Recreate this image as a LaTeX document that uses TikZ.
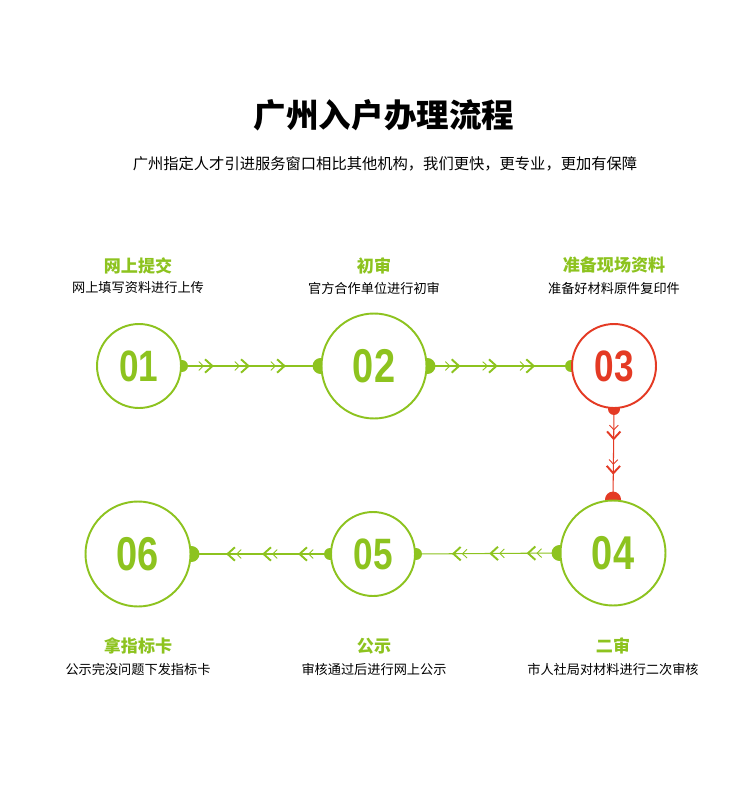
\documentclass[tikz,border=0pt]{standalone}
\usepackage{fontspec}
\usetikzlibrary{positioning,decorations.markings,backgrounds}
\newfontfamily\cjk{Noto Sans CJK SC}
\newfontfamily\numfont{Liberation Sans}[FakeStretch=0.8]
\definecolor{leaf}{RGB}{141,195,31}
\definecolor{brick}{RGB}{228,58,36}

% one feather mark on a connector
\newcommand{\chev}{%
  \draw[line width=1.1pt] (-4.2pt,3.8pt) -- (0,0) -- (-4.2pt,-3.8pt);
  \draw[line width=0.5pt] (-7.8pt,2.5pt) -- (-5.2pt,0) -- (-7.8pt,-2.5pt);}

\begin{document}
\begin{tikzpicture}[
    x=0.02cm, y=-0.02cm,
    small/.style={circle, draw=leaf, line width=1.1pt, fill=white, inner sep=0pt,
        minimum size=1.68cm, text=leaf, font=\numfont\bfseries\fontsize{25}{25}\selectfont},
    big/.style={small, minimum size=2.1cm, font=\numfont\bfseries\fontsize{27}{27}\selectfont},
    head/.style={font=\cjk\bfseries\fontsize{9.7}{10}\selectfont, text=leaf},
    note/.style={font=\cjk\fontsize{7.5}{8}\selectfont, text=black},
    flow/.style={color=leaf, line width=0.6pt, postaction={decorate},
        decoration={markings, mark=between positions 0.22 and 0.75 step 0.26 with {\chev}}},
    drop/.style={color=brick, line width=0.6pt, postaction={decorate},
        decoration={markings, mark=between positions 0.33 and 0.72 step 0.38 with {\chev}}}
]
    \useasboundingbox (0,0) rectangle (750,800);

    % Title
    \node[font=\cjk\bfseries\fontsize{18.5}{20}\selectfont] (title) at (384,115) {广州入户办理流程};
    \node[font=\cjk\fontsize{8.7}{10}\selectfont] (sub) at (385,164)
        {广州指定人才引进服务窗口相比其他机构，我们更快，更专业，更加有保障};

    % Steps
    \node[small] (c1) at (139,366) {01};
    \node[big] (c2) at (374,366) {02};
    \node[small, draw=brick, text=brick] (c3) at (614,366) {03};
    \node[big] (c4) at (613,553) {04};
    \node[small] (c5) at (373,554) {05};
    \node[big] (c6) at (138,554) {06};

    % Captions
    \node[head] (h1) at (138,266) {网上提交};
    \node[note] (n1) at (138,288) {网上填写资料进行上传};
    \node[head] (h2) at (374,266) {初审};
    \node[note] (n2) at (374,288) {官方合作单位进行初审};
    \node[head] (h3) at (614,265) {准备现场资料};
    \node[note] (n3) at (614,288) {准备好材料原件复印件};
    \node[head] (h6) at (138,646) {拿指标卡};
    \node[note] (n6) at (138,669) {公示完没问题下发指标卡};
    \node[head] (h5) at (374,646) {公示};
    \node[note] (n5) at (374,669) {审核通过后进行网上公示};
    \node[head] (h4) at (613,646) {二审};
    \node[note] (n4) at (613,669) {市人社局对材料进行二次审核};

    % Connectors and dots behind the circles
    \begin{scope}[on background layer]
        \fill[white] (0,0) rectangle (750,800);
        \draw[flow] (c1.east) -- (c2.west);
        \draw[flow] (c2.east) -- (c3.west);
        \draw[drop] (c3.south) -- (c4.north);
        \draw[flow] (c4.west) -- (c5.east);
        \draw[flow] (c5.west) -- (c6.east);
        \foreach \a/\r in {c1.east/6, c2.west/8, c2.east/8, c3.west/6,
                           c4.west/8, c5.east/6, c5.west/6, c6.east/8}
            \fill[leaf] (\a) circle[radius=\r];
        \fill[brick] (c3.south) circle[radius=6];
        \fill[brick] (c4.north) circle[radius=8];
    \end{scope}
\end{tikzpicture}
\end{document}
